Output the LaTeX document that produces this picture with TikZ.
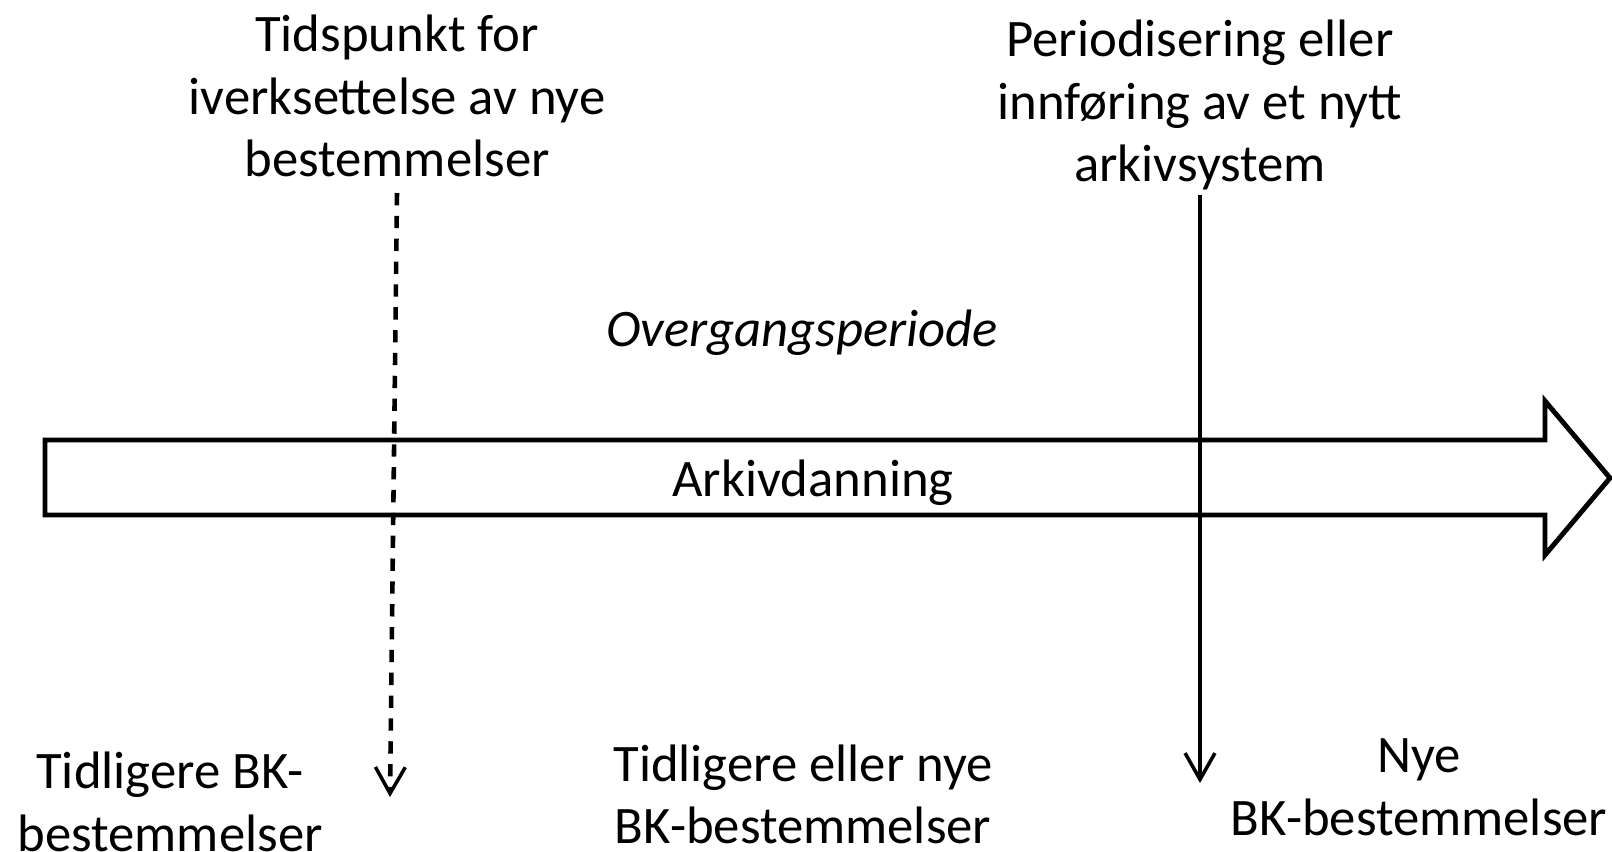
\documentclass[tikz,border=0pt]{standalone}
\usepackage{fontspec}
\setmainfont{Carlito}
\usetikzlibrary{arrows.meta}

\begin{document}
\begin{tikzpicture}[
        label/.style={align=center, inner sep=0pt, font=\fontsize{30}{35.7}\selectfont},
        timeline/.style={draw=black, line width=2.8pt, line join=miter, fill=white},
        markLine/.style={line width=2.2pt, -{Straight Barb[length=15pt,width=17pt,line width=2pt]}},
        markDashed/.style={markLine, line width=2.6pt, dash pattern=on 7pt off 6pt},
        >=Latex
      ]
      \useasboundingbox (0,0) rectangle (32.24,-17.02);

      % the long arrow
      \draw[timeline] (0.9,-8.8) -- (30.9,-8.8) -- (30.9,-8.02) -- (32.2,-9.56)
        -- (30.9,-11.1) -- (30.9,-10.3) -- (0.9,-10.3) -- cycle;
      \node[label] (arkiv) at (16.26,-9.66) {Arkivdanning};
      \node[label, font=\fontsize{30}{35.7}\selectfont\itshape] (overgang) at (16.04,-6.66) {Overgangsperiode};

      % markers
      \node[label] (tidspunkt) at (7.94,-1.92) {Tidspunkt for\\iverksettelse av nye\\bestemmelser};
      \node[label] (periode) at (24.0,-2.1) {Periodisering eller\\innføring av et nytt\\arkivsystem};
      \coordinate (dashTop) at (7.94,-3.86);
      \coordinate (dashEnd) at (7.8,-15.94);
      \coordinate (solidTop) at (24.0,-3.9);
      \coordinate (solidEnd) at (24.0,-15.66);
      \draw[markDashed] (dashTop) -- (dashEnd);
      \draw[markLine] (solidTop) -- (solidEnd);

      % periods below
      \node[label] (tidligere) at (3.4,-16.04) {Tidligere BK-\\bestemmelser};
      \node[label] (begge) at (16.06,-15.89) {Tidligere eller nye\\BK-bestemmelser};
      \node[label] (nye) at (28.38,-15.75) {Nye\\BK-bestemmelser};
    \end{tikzpicture}
\end{document}
